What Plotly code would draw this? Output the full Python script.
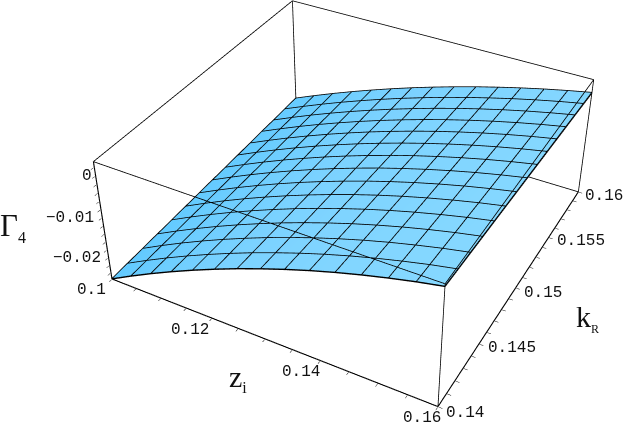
import numpy as np
import plotly.graph_objects as go

zi_vals = [0.1 + i * 0.06 / 14 for i in range(15)]
kr_vals = [0.14 + j * 0.02 / 14 for j in range(15)]
zi_range = [0.1, 0.16]
kr_range = [0.14, 0.16]
gamma_range = [-0.0255, 0.0034]
gamma_1e5 = [
 [-2550,-2262,-1987,-1726,-1478,-1243,-1020,-812,-616,-433,-264,-108,35,166,282],
 [-2532,-2249,-1978,-1721,-1477,-1245,-1025,-820,-626,-445,-278,-124,18,148,263],
 [-2515,-2236,-1969,-1716,-1475,-1247,-1030,-828,-636,-458,-292,-139,1,130,245],
 [-2497,-2223,-1961,-1711,-1474,-1249,-1035,-835,-647,-470,-307,-155,-16,112,226],
 [-2480,-2210,-1952,-1706,-1473,-1251,-1040,-843,-657,-483,-321,-171,-33,94,208],
 [-2462,-2197,-1943,-1701,-1472,-1253,-1046,-851,-667,-495,-335,-187,-50,76,189],
 [-2444,-2184,-1934,-1697,-1470,-1255,-1051,-859,-677,-507,-349,-202,-66,58,170],
 [-2427,-2171,-1925,-1692,-1469,-1257,-1056,-867,-687,-520,-364,-218,-83,40,152],
 [-2409,-2158,-1917,-1687,-1468,-1259,-1061,-874,-698,-532,-378,-234,-100,22,133],
 [-2392,-2145,-1908,-1682,-1466,-1261,-1066,-882,-708,-545,-392,-249,-117,4,115],
 [-2374,-2132,-1899,-1677,-1465,-1263,-1071,-890,-718,-557,-406,-265,-134,-14,96],
 [-2356,-2119,-1890,-1672,-1464,-1265,-1076,-898,-728,-569,-420,-281,-151,-32,77],
 [-2339,-2106,-1881,-1667,-1462,-1267,-1081,-906,-738,-582,-434,-296,-168,-50,59],
 [-2321,-2093,-1873,-1662,-1461,-1269,-1086,-913,-749,-594,-449,-312,-185,-68,40],
 [-2304,-2080,-1864,-1657,-1460,-1271,-1091,-921,-759,-606,-463,-328,-202,-86,22],
]
zi_ticks = [0.1 + i * 0.005 for i in range(13)]
kr_ticks = [0.14 + i * 0.001 for i in range(21)]
gamma_ticks = [-0.024 + i * 0.002 for i in range(14)]
zi_labels = [0.1, 0.12, 0.14, 0.16]
zi_label_text = ["0.1", "0.12", "0.14", "0.16"]
kr_labels = [0.14, 0.145, 0.15, 0.155, 0.16]
kr_label_text = ["0.14", "0.145", "0.15", "0.155", "0.16"]
gamma_labels = [0, -0.01, -0.02]
gamma_label_text = ["0", "\u22120.01", "\u22120.02"]

gamma = np.array(gamma_1e5) * 1e-5

# plotly's field of view is fixed at 45 degrees; the reference's weaker perspective
# (Mathematica view point 1.3, -2.4, 2) needs a larger canvas, offset behind the 625x424 window.
FW, FH = 1476, 996
OX, OY = 382, 320
PAD = 0.002
def padded(r):
    s = r[1] - r[0]
    return [r[0] - PAD * s, r[1] + PAD * s]
def px(x, y):
    return dict(x=(x + OX) / FW, y=1 - (y + OY) / FH, xref="paper", yref="paper", showarrow=False,
                xanchor="center", yanchor="middle")

fig = go.Figure()
fig.add_trace(go.Surface(x=zi_vals, y=kr_vals, z=gamma, surfacecolor=gamma,
    colorscale=[[0, "#62CAFF"], [0.5, "#7BD2FF"], [1, "#86D8FF"]], cmin=gamma_range[0], cmax=gamma_range[1], showscale=False,
    lighting=dict(ambient=1, diffuse=0, specular=0, fresnel=0, roughness=1),
    hoverinfo="skip"))
# mesh lines
mx, my, mz = [], [], []
eps = 2e-5
for j in range(15):
    for i in range(15):
        mx.append(zi_vals[i]); my.append(kr_vals[j]); mz.append(gamma[j, i] + eps)
    mx.append(None); my.append(None); mz.append(None)
for i in range(15):
    for j in range(15):
        mx.append(zi_vals[i]); my.append(kr_vals[j]); mz.append(gamma[j, i] + eps)
    mx.append(None); my.append(None); mz.append(None)
fig.add_trace(go.Scatter3d(x=mx, y=my, z=mz, mode="lines", line=dict(color="#000", width=2.8), hoverinfo="skip"))
# box
xl, xh = zi_range; yl, yh = kr_range; zl, zh = gamma_range
def edge_trace(edges, width):
    bx, by, bz = [], [], []
    for s, t in edges:
        bx += [s[0], t[0], None]; by += [s[1], t[1], None]; bz += [s[2], t[2], None]
    return go.Scatter3d(x=bx, y=by, z=bz, mode="lines", line=dict(color="#000", width=width), hoverinfo="skip")
fig.add_trace(edge_trace([((xl,yl,zl),(xh,yl,zl)), ((xh,yl,zl),(xh,yh,zl)), ((xl,yl,zl),(xl,yl,zh))], 2.2))
fig.add_trace(edge_trace([((xh,yh,zl),(xl,yh,zl)), ((xl,yh,zl),(xl,yl,zl)),
                          ((xl,yl,zh),(xh,yl,zh)), ((xh,yl,zh),(xh,yh,zh)), ((xh,yh,zh),(xl,yh,zh)), ((xl,yh,zh),(xl,yl,zh)),
                          ((xh,yl,zl),(xh,yl,zh)), ((xh,yh,zl),(xh,yh,zh)), ((xl,yh,zl),(xl,yh,zh))], 1.6))

LABEL_FONT = dict(family="Liberation Mono", size=16, color="#111")
scene_ann = []
for v, t, (dx, dy) in zip(zi_labels, zi_label_text, [(-20, -11), (-22, -12), (-19, -11), (-16, -11)]):
    scene_ann.append(dict(x=v, y=yl, z=zl, text=t, showarrow=False, xshift=dx, yshift=dy, font=LABEL_FONT))
for v, t, (dx, dy) in zip(kr_labels, kr_label_text, [(27, -6), (33, -4), (27, -5), (32, -4), (26, -4)]):
    scene_ann.append(dict(x=xh, y=v, z=zl, text=t, showarrow=False, xshift=dx, yshift=dy, font=LABEL_FONT))
for v, t, (dx, dy) in zip(gamma_labels, gamma_label_text, [(-9, 0), (-32, 0), (-32, 0)]):
    scene_ann.append(dict(x=xl, y=yl, z=v, text=t, showarrow=False, xshift=dx, yshift=dy, font=LABEL_FONT))

ax = dict(visible=True, showbackground=False, showgrid=False, zeroline=False, showline=False,
          showticklabels=False, showspikes=False, title="", ticks="inside", ticklen=3, tickcolor="#111")
SERIF = "Liberation Serif"
fig.update_layout(width=FW, height=FH, margin=dict(l=0, r=0, t=0, b=0), showlegend=False,
    paper_bgcolor="white",
    scene=dict(domain=dict(x=[0, 1], y=[0, 1]),
        xaxis=dict(ax, range=padded(zi_range), tickvals=zi_ticks),
        yaxis=dict(ax, range=padded(kr_range), tickvals=kr_ticks),
        zaxis=dict(ax, range=padded(gamma_range), tickvals=gamma_ticks),
        aspectmode="manual", aspectratio=dict(x=1 + 2 * PAD, y=1 + 2 * PAD, z=0.4 * (1 + 2 * PAD)),
        camera=dict(eye=dict(x=1.3, y=-2.4, z=2), center=dict(x=0, y=0, z=0),
                    up=dict(x=0, y=0, z=1), projection=dict(type="perspective")),
        annotations=scene_ann),
    annotations=[
        dict(px(13, 227), text='\u0393<sub><span style="font-size:16px">4</span></sub>',
             font=dict(family=SERIF, size=31, color="#111")),
        dict(px(238, 378), text='z<sub><span style="font-size:16px">i</span></sub>',
             font=dict(family=SERIF, size=30, color="#111")),
        dict(px(587, 318), text='k<sub><span style="font-size:12px">R</span></sub>',
             font=dict(family=SERIF, size=30, color="#111")),
    ])
post = f"""
document.documentElement.style.overflow='hidden';
document.body.style.overflow='hidden';
document.body.style.margin='0';
var g=document.querySelector('.plotly-graph-div');
g.style.position='absolute'; g.style.left='-{OX}px'; g.style.top='-{OY}px';
"""
fig.write_html("out.html", post_script=post, config=dict(displayModeBar=False))
